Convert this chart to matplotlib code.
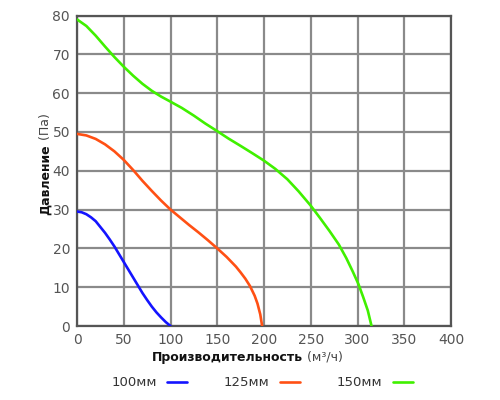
import matplotlib
matplotlib.use("Agg")
import matplotlib.pyplot as plt

# fan curves (flow m3/h, pressure Pa)
x_100 = [0, 5, 10, 15, 20, 25, 30, 35, 40, 45, 50, 55, 60, 65, 70, 75, 80, 85, 90, 95, 100]
y_100 = [29.5, 29.3, 28.8, 28.0, 27.0, 25.5, 24.0, 22.3, 20.5, 18.5, 16.5, 14.5,
         12.5, 10.5, 8.5, 6.7, 5.0, 3.5, 2.2, 1.0, 0.0]

x_125 = [0, 10, 20, 30, 40, 50, 60, 70, 80, 90, 100, 110, 120, 130, 140, 150,
         160, 170, 175, 180, 185, 190, 193, 196, 198]
y_125 = [49.5, 49.1, 48.2, 46.8, 45.0, 42.8, 40.2, 37.4, 34.8, 32.3, 30.0, 28.0,
         26.0, 24.1, 22.1, 20.0, 17.8, 15.3, 13.8, 12.2, 10.3, 7.8, 5.8, 3.0, 0.0]

x_150 = [0, 10, 20, 30, 40, 50, 60, 70, 80, 90, 100, 112, 125, 137, 150, 162,
         175, 187, 200, 212, 225, 237, 250, 260, 270, 280, 288, 295, 301, 306, 311, 315]
y_150 = [79.0, 77.3, 74.8, 72.0, 69.3, 66.8, 64.5, 62.4, 60.6, 59.1, 57.8, 56.2,
         54.2, 52.2, 50.2, 48.3, 46.4, 44.6, 42.6, 40.5, 37.8, 34.7, 31.0, 27.8,
         24.5, 21.0, 17.5, 14.0, 10.8, 7.5, 4.0, 0.0]

labels = ["100мм", "125мм", "150мм"]
colors = ["#1414ff", "#ff5014", "#40f000"]
x_ticks = [0, 50, 100, 150, 200, 250, 300, 350, 400]
y_ticks = [0, 10, 20, 30, 40, 50, 60, 70, 80]

fig = plt.figure(figsize=(5, 4), dpi=100)
ax = fig.add_axes([77 / 500, 1 - 326 / 400, 374 / 500, 310.5 / 400])

lines = []
for xs, ys, c, lab in zip([x_100, x_125, x_150], [y_100, y_125, y_150], colors, labels):
    ln, = ax.plot(xs, ys, color=c, lw=1.9, label=lab, solid_capstyle="round",
                  solid_joinstyle="round", zorder=3)
    lines.append(ln)

ax.set_xlim(0, 400)
ax.set_ylim(0, 80)
ax.set_xticks(x_ticks)
ax.set_yticks(y_ticks)
ax.grid(True, color="#8a8a8a", lw=1.6)
ax.set_axisbelow(True)
for s in ax.spines.values():
    s.set_color("#555555")
    s.set_linewidth(1.6)
ax.tick_params(length=0, pad=5, labelsize=10, labelcolor="#555555")

# axis titles: bold word followed by normal units
ty = fig.text(45 / 500, 1 - 215 / 400, "Давление", rotation=90, fontsize=9,
              fontweight="bold", ha="center", va="bottom", color="#111111")
ax.annotate(" (Па)", xy=(0.5, 1), xycoords=ty, rotation=90, fontsize=9,
            ha="center", va="bottom", color="#444444")
tx = fig.text(152 / 500, 1 - 357 / 400, "Производительность", fontsize=9,
              fontweight="bold", ha="left", va="center", color="#111111")
ax.annotate(" (м³/ч)", xy=(1, 0.5), xycoords=tx, fontsize=9,
            ha="left", va="center", color="#444444")

fig.legend(lines, labels, loc="center", bbox_to_anchor=(262 / 500, 1 - 383 / 400),
           ncol=3, frameon=False, markerfirst=False, fontsize=9.5,
           handlelength=1.5, columnspacing=2.8, handletextpad=0.8,
           labelcolor="#333333")

fig.savefig("out.png", dpi=100, facecolor="white")
